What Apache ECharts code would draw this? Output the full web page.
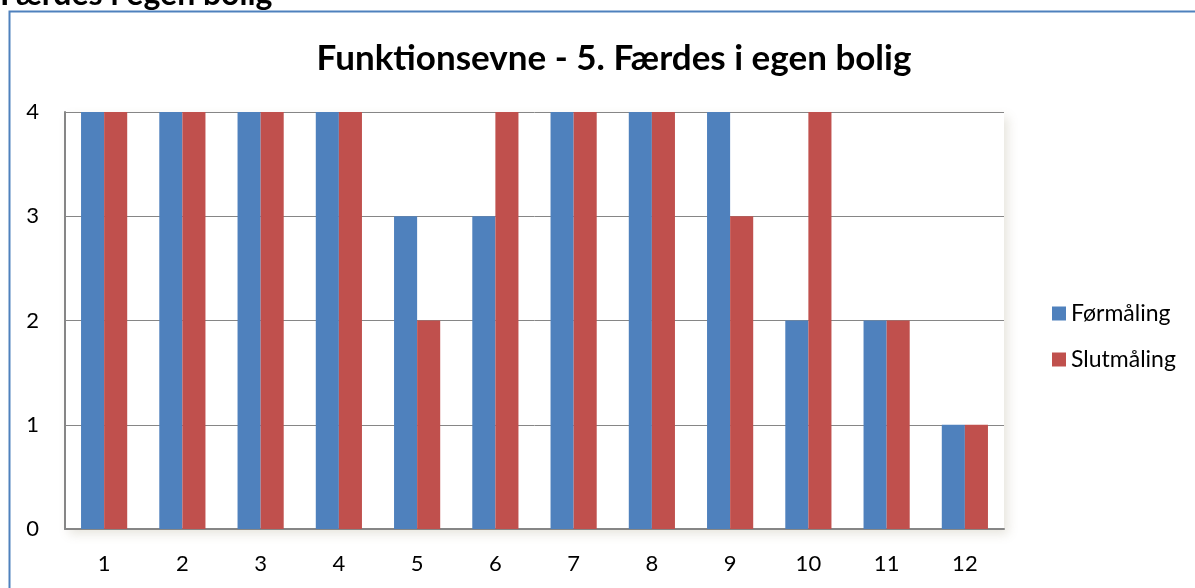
<!DOCTYPE html>
<html>
<head>
<meta charset="utf-8">
<script src="https://cdn.jsdelivr.net/npm/echarts@6/dist/echarts.min.js"></script>
<style>
  html, body { margin: 0; padding: 0; background: #fff; }
  #chart { width: 1195px; height: 588px; }
</style>
</head>
<body>
<div id="chart"></div>
<script>
  // data
  const categories = ['1', '2', '3', '4', '5', '6', '7', '8', '9', '10', '11', '12'];
  const formaling = [4, 4, 4, 4, 3, 3, 4, 4, 4, 2, 2, 1];
  const slutmaling = [4, 4, 4, 4, 2, 4, 4, 4, 3, 4, 2, 1];

  const font = 'Lato, "Open Sans", sans-serif';
  const myChart = echarts.init(document.getElementById('chart'));

  const option = {
    backgroundColor: '#fff',
    animation: false,
    textStyle: { fontFamily: font },
    title: {
      text: 'Funktionsevne - 5. Færdes i egen bolig',
      left: 609,
      textAlign: 'center',
      top: 36,
      textStyle: { fontSize: 35, fontWeight: 'bold', color: '#000', fontFamily: font }
    },
    graphic: [
      {
        type: 'rect',
        shape: { x: 9.5, y: 11.5, width: 1200, height: 600 },
        style: { fill: 'none', stroke: '#4f81bd', lineWidth: 2 },
        silent: true
      },
      {
        type: 'text',
        left: 0,
        top: -21,
        style: { text: 'Færdes i egen bolig', fontSize: 32, fontWeight: 'bold', fill: '#000', fontFamily: font }
      }
    ],
    legend: {
      orient: 'vertical',
      left: 1047,
      top: 297,
      itemWidth: 14,
      itemHeight: 14,
      itemGap: 23,
      icon: 'rect',
      textStyle: { fontSize: 23, color: '#000', fontFamily: font },
      data: ['Førmåling', 'Slutmåling']
    },
    grid: {
      left: 65,
      right: 191,
      top: 112,
      bottom: 59,
      containLabel: false,
      show: true,
      backgroundColor: '#fff',
      borderWidth: 0,
      shadowColor: 'rgba(120, 110, 70, 0.18)',
      shadowBlur: 10,
      shadowOffsetX: 4,
      shadowOffsetY: 5
    },
    xAxis: {
      type: 'category',
      data: categories,
      axisLine: { lineStyle: { color: '#868686', width: 2 } },
      axisTick: { show: false },
      axisLabel: { fontSize: 22, color: '#000', margin: 24, fontFamily: font }
    },
    yAxis: {
      type: 'value',
      min: 0,
      max: 4,
      interval: 1,
      axisLine: { show: true, lineStyle: { color: '#868686', width: 2 } },
      axisTick: { show: false },
      splitLine: { lineStyle: { color: '#868686', width: 1 } },
      axisLabel: { fontSize: 22, color: '#000', margin: 26, fontFamily: font }
    },
    series: [
      {
        name: 'Førmåling',
        type: 'bar',
        data: formaling,
        barGap: '0%',
        barCategoryGap: '41%',
        itemStyle: { color: '#4f81bd' }
      },
      {
        name: 'Slutmåling',
        type: 'bar',
        data: slutmaling,
        itemStyle: { color: '#c0504d' }
      }
    ]
  };
  myChart.setOption(option);
</script>
</body>
</html>
